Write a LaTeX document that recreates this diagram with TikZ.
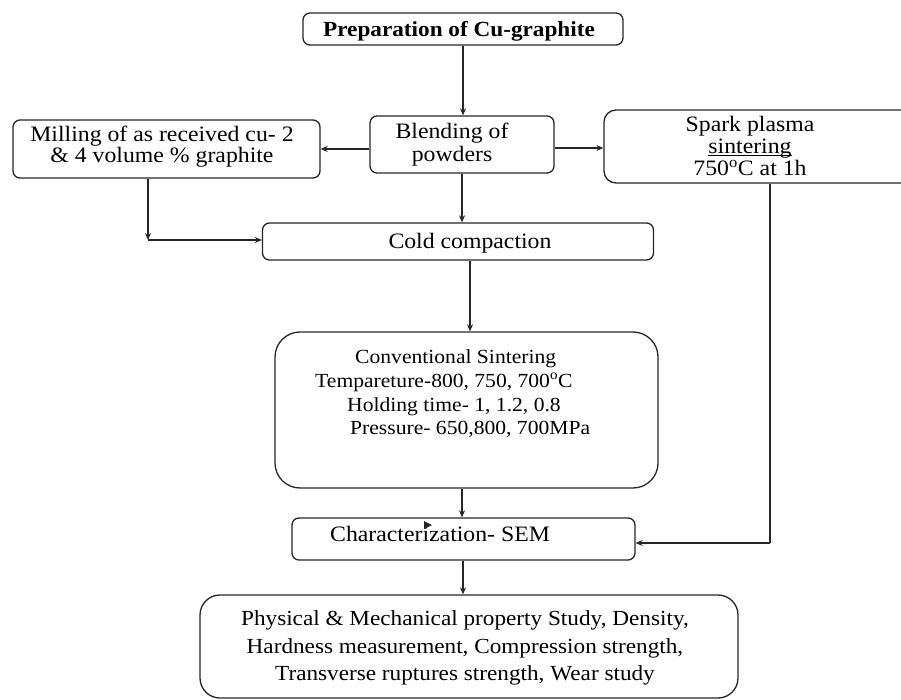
\documentclass[tikz,border=0pt]{standalone}
\usepackage{fontspec}
\setmainfont{Liberation Serif}[FakeStretch=1.08]
\usetikzlibrary{arrows.meta}
\newcommand\myul[1]{\setbox0\hbox{#1}\rlap{\rule[-2.5pt]{\wd0}{0.7pt}}\box0}
\begin{document}
\begin{tikzpicture}[x=1pt,y=-1pt,
  box/.style={draw=black!85,line width=1.3pt,rounded corners=#1,inner sep=0pt},
  box/.default=7pt,
  txt/.style={font=\fontsize{22}{23}\selectfont,align=center,inner sep=0pt},
  lnt/.style={font=\fontsize{20}{23}\selectfont,inner sep=0pt,anchor=west,text height=14pt,text depth=4pt},
  arr/.style={draw=black!85,line width=1.2pt,-{Stealth[length=7pt,width=6pt]}},
  ln/.style={draw=black!85,line width=1.2pt}]
\useasboundingbox (0,0) rectangle (901,700);
% boxes
\node[box,minimum width=320pt,minimum height=32pt] (top) at (463,29) {};
\node[txt,font=\fontsize{21.5}{24}\selectfont\bfseries] (toptxt) at (459,31) {Preparation of Cu-graphite};
\node[box,minimum width=184pt,minimum height=57pt] (blend) at (462,144.5) {};
\node[txt] (blendtxt) at (452,145) {Blending of\\powders};
\node[box,minimum width=307pt,minimum height=58pt] (mill) at (166.5,149) {};
\node[txt,font=\fontsize{22}{21}\selectfont] (milltxt) at (162,147) {Milling of as received cu- 2\\\& 4 volume \% graphite};
\node[box=12pt,minimum width=311pt,minimum height=73pt] (spark) at (759.5,146.5) {};
\node[txt,font=\fontsize{22}{22}\selectfont] (sparktxt) at (750,146) {Spark plasma\\\myul{sintering}\\750\textsuperscript{o}C at 1h};
\node[box,minimum width=391pt,minimum height=37pt] (cold) at (458,241.5) {};
\node[txt] (coldtxt) at (470,243) {Cold compaction};
\node[box=25pt,minimum width=383pt,minimum height=156pt] (conv) at (466.5,410) {};
\node[lnt] (c1) at (355,358) {Conventional Sintering};
\node[lnt] (c2) at (315,382) {Tempareture-800, 750, 700\textsuperscript{o}C};
\node[lnt] (c3) at (347,406) {Holding time- 1, 1.2, 0.8};
\node[lnt] (c4) at (350,429) {Pressure- 650,800, 700MPa};
\node[box,minimum width=343pt,minimum height=42pt] (char) at (463.5,539) {};
\node[lnt,font=\fontsize{22}{23}\selectfont] (chartxt) at (330,536) {Characterization- SEM};
\node[box=20pt,minimum width=538pt,minimum height=103pt] (res) at (469,646.5) {};
\node[txt,font=\fontsize{21.5}{27.5}\selectfont] (restxt) at (465,648) {Physical \& Mechanical property Study, Density,\\Hardness measurement, Compression strength,\\Transverse ruptures strength, Wear study};
% stray arrowhead
\fill[black!85] (424,521) -- (432,525) -- (424,529) -- cycle;
% connectors
\coordinate (k1) at (148,240);
\coordinate (k2) at (770,543);
\coordinate (k3) at (600,148);
\draw[arr] (top.south) -- (top.south |- blend.north);
\draw[arr] (blend.west |- mill.east) -- (mill.east);
\draw[arr] (blend.east |- k3) -- (spark.west |- k3);
\draw[arr] (blend.south) -- (blend.south |- cold.north);
\draw[arr] (mill.south -| k1) -- (k1);
\draw[arr] (k1) -- (cold.west |- k1);
\draw[arr] (cold.south -| 470,0) -- (conv.north -| 470,0);
\draw[arr] (conv.south -| 462,0) -- (char.north -| 462,0);
\draw[ln] (spark.south -| k2) -- (k2);
\draw[arr] (k2) -- (char.east |- k2);
\draw[arr] (char.south -| 463,0) -- (res.north -| 463,0);
\end{tikzpicture}
\end{document}
